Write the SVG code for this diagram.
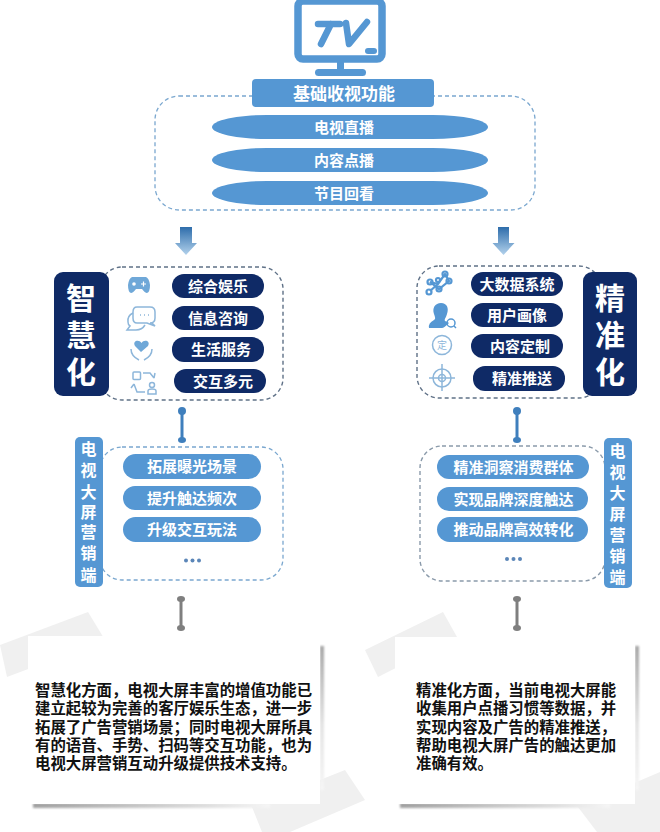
<svg xmlns="http://www.w3.org/2000/svg" width="660" height="832" viewBox="0 0 660 832">
<style>
text{font-family:"Liberation Sans","Noto Sans CJK SC",sans-serif;font-weight:700;text-anchor:middle}
.w{fill:#fff}
.b{fill:#5597d3}
.n{fill:#0f2a66}
.d{fill:none;stroke:#7aa7cf;stroke-width:1.3;stroke-dasharray:4 3}
.g{fill:none;stroke:#5f7187;stroke-width:1.4;stroke-dasharray:4 3}
.t{font-size:15px}
.v{font-size:16px}
.h{font-size:30px}
.ic{fill:none;stroke:#8db6da;stroke-width:1.5}
.note{font-size:15.4px;fill:#111;text-anchor:start}
.tape{fill:#f0f0f0}
</style>
<defs>
<linearGradient id="ar" x1="0" y1="0" x2="0" y2="1"><stop offset="0" stop-color="#2e6dab"/><stop offset="1" stop-color="#b3d2ec"/></linearGradient>
<linearGradient id="sr" x1="0" y1="0" x2="0" y2="1"><stop offset="0" stop-color="#a5a5a5"/><stop offset="0.55" stop-color="#e4e4e4"/><stop offset="1" stop-color="#f6f6f6"/></linearGradient>
<linearGradient id="sb" x1="0" y1="0" x2="1" y2="0"><stop offset="0" stop-color="#a0a0a0"/><stop offset="0.75" stop-color="#e0e0e0"/><stop offset="1" stop-color="#f6f6f6"/></linearGradient>
<filter id="bl" x="-50%" y="-50%" width="200%" height="200%"><feGaussianBlur stdDeviation="1.200"/></filter>
</defs>
<g id="tv">
<rect x="298" y="1" width="84" height="58" rx="5" fill="#fff" stroke="#5597d3" stroke-width="7.500"/>
<rect x="337" y="62" width="7" height="8" class="b"/>
<rect x="315" y="69" width="51" height="7" rx="3.500" class="b"/>
<path d="M318 24H340M331 24L321 44M346 23L349 44L367 22" fill="none" stroke="#5597d3" stroke-width="6.500" stroke-linecap="round" stroke-linejoin="round"/>
<rect x="365" y="48" width="12" height="6" rx="3" class="b"/>
</g>
<g id="base">
<rect x="155" y="96" width="380" height="114" rx="24" class="d"/>
<rect x="252" y="79" width="182" height="28" rx="4" class="b"/>
<text x="344" y="100" class="w" font-size="17">基础收视功能</text>
<rect x="212" y="115" width="276" height="24" rx="55" ry="12" class="b"/><text x="344" y="132.500" class="w t">电视直播</text>
<rect x="212" y="148" width="276" height="24" rx="55" ry="12" class="b"/><text x="344" y="165.500" class="w t">内容点播</text>
<rect x="212" y="181" width="276" height="24" rx="55" ry="12" class="b"/><text x="344" y="198.500" class="w t">节目回看</text>
</g>
<g id="connectors">
<path d="M180 227H192V243H197L186 255L175 243H180Z" fill="url(#ar)"/>
<path d="M498 227H509V243H514.500L503.500 255L492.500 243H498Z" fill="url(#ar)"/>
<path d="M182 411V440" stroke="#3f7fbd" stroke-width="3"/><circle cx="182" cy="411" r="4" fill="#3f7fbd"/><ellipse cx="182" cy="440" rx="4" ry="3" fill="#3f7fbd"/>
<path d="M517 411V440" stroke="#3f7fbd" stroke-width="3"/><circle cx="517" cy="411" r="4" fill="#3f7fbd"/><ellipse cx="517" cy="440" rx="4" ry="3" fill="#3f7fbd"/>
<path d="M181 599V627" stroke="#7f7f7f" stroke-width="3"/><ellipse cx="181" cy="599" rx="4" ry="3" fill="#7f7f7f"/><ellipse cx="181" cy="628" rx="4" ry="3" fill="#7f7f7f"/>
<path d="M517 599V627" stroke="#7f7f7f" stroke-width="3"/><ellipse cx="517" cy="599" rx="4" ry="3" fill="#7f7f7f"/><ellipse cx="517" cy="628" rx="4" ry="3" fill="#7f7f7f"/>
</g>
<g id="smart">
<rect x="100" y="267" width="183" height="133" rx="22" class="g"/>
<rect x="54" y="272" width="55" height="124" rx="9" class="n"/>
<text x="81" y="309" class="w h">智</text>
<text x="81" y="346" class="w h">慧</text>
<text x="81" y="383" class="w h">化</text>
<rect x="172" y="274" width="92" height="24" rx="12" class="n"/><text x="218" y="291.500" class="w t">综合娱乐</text>
<rect x="172" y="306" width="92" height="24" rx="12" class="n"/><text x="218" y="323.500" class="w t">信息咨询</text>
<rect x="172" y="337" width="92" height="25" rx="12" class="n"/><text x="221" y="355" class="w t">生活服务</text>
<rect x="174" y="369" width="92" height="24" rx="12" class="n"/><text x="223" y="386.500" class="w t">交互多元</text>
<path d="M132 277H146Q149 278 150 285Q150 292 147 293Q145 293 142 289H136Q133 293 131 293Q128 292 128 285Q129 278 132 277Z" fill="#6fa8d8"/>
<circle cx="134" cy="284" r="1.800" fill="#fff"/><path d="M141 284H146M143.500 281.500V286.500" stroke="#fff" stroke-width="1.200"/>
<path d="M137 307H150Q155 307 155 312V318Q155 323 150 323H152L155 326L147 323H137Q133 323 133 318V312Q133 307 137 307Z" class="ic"/>
<path d="M133 313Q127 316 128 322Q128 325 130 326L127 330H136Q142 330 145 325" class="ic"/>
<path d="M140 315H141M144 315H145M148 315H149" stroke="#8db6da" stroke-width="1.500"/>
<path d="M141 352L135 346C132 341 139 339 141.500 343C144 339 151 341 148 346Z" fill="#6fa8d8"/>
<path d="M131 349Q131 356 139 360M152 349Q152 356 144 360" class="ic"/>
<rect x="133" y="372" width="7.500" height="7.500" rx="1" class="ic"/>
<path d="M143 373H150L154 378M154 378L155 373M134 384L137 392H145M134 384L131 388" class="ic"/>
<circle cx="152" cy="385" r="2.500" class="ic"/><path d="M148 394V391Q148 389 152 389Q156 389 156 391V394Z" class="ic"/>
</g>
<g id="precise">
<rect x="417" y="266" width="184" height="132" rx="22" class="g"/>
<rect x="583" y="272" width="54" height="124" rx="9" class="n"/>
<text x="610" y="309" class="w h">精</text>
<text x="610" y="346" class="w h">准</text>
<text x="610" y="383" class="w h">化</text>
<rect x="471" y="272" width="92" height="24" rx="12" class="n"/><text x="517" y="289.500" class="w t">大数据系统</text>
<rect x="471" y="303" width="92" height="24" rx="12" class="n"/><text x="517" y="320.500" class="w t">用户画像</text>
<rect x="471" y="334" width="92" height="24" rx="12" class="n"/><text x="520" y="351.500" class="w t">内容定制</text>
<rect x="473" y="366" width="92" height="25" rx="12" class="n"/><text x="522" y="384" class="w t">精准推送</text>
<g fill="none" stroke="#5597d3" stroke-width="2.200">
<path d="M430 291L438 284L445 274L449 281L439 289L430 282L438 284"/>
<circle cx="429" cy="292" r="2.500"/><circle cx="445" cy="274" r="2.500"/><circle cx="449" cy="281" r="2.500"/><circle cx="430" cy="282" r="2.500"/><circle cx="439" cy="289" r="2.500"/><circle cx="438" cy="280" r="2"/>
</g>
<path d="M441 303C447 303 449 308 447 314C446 318 444 319 445 321Q448 322 449 323Q444 328 442 328H429Q428 323 434 320C436 319 435 317 434 314C432 308 435 303 441 303Z" fill="#5597d3"/>
<circle cx="451" cy="323" r="4" fill="none" stroke="#5597d3" stroke-width="1.500"/><path d="M454 326L456 328" stroke="#5597d3" stroke-width="1.500"/>
<circle cx="442" cy="345" r="9.500" class="ic"/><text x="442" y="349" font-size="10" style="font-weight:400" fill="#8db6da">定</text>
<circle cx="442" cy="378" r="9" class="ic"/><circle cx="442" cy="378" r="3.500" class="ic"/><path d="M442 364V391M429 378H455" class="ic"/>
</g>
<g id="tv-left">
<rect x="100" y="447" width="183" height="133" rx="22" class="d"/>
<rect x="75" y="437" width="28" height="150" rx="5" class="b"/>
<text x="88.500" y="455" class="w v">电</text><text x="88.500" y="476" class="w v">视</text><text x="88.500" y="498" class="w v">大</text><text x="88.500" y="518" class="w v">屏</text><text x="88.500" y="538" class="w v">营</text><text x="88.500" y="559" class="w v">销</text><text x="88.500" y="581" class="w v">端</text>
<rect x="123" y="454" width="138" height="25" rx="12.500" class="b"/><text x="192" y="472" class="w t">拓展曝光场景</text>
<rect x="123" y="486" width="138" height="24" rx="12" class="b"/><text x="192" y="503.500" class="w t">提升触达频次</text>
<rect x="123" y="517" width="138" height="25" rx="12.500" class="b"/><text x="192" y="535" class="w t">升级交互玩法</text>
<g fill="#5b86b8"><circle cx="186" cy="560.500" r="2"/><circle cx="192.500" cy="560.500" r="2"/><circle cx="199" cy="560.500" r="2"/></g>
</g>
<g id="tv-right">
<rect x="420" y="446" width="185" height="135" rx="22" class="g" style="stroke:#8a9aaa"/>
<rect x="604" y="438" width="28" height="150" rx="5" class="b"/>
<text x="617.500" y="457" class="w v">电</text><text x="617.500" y="478" class="w v">视</text><text x="617.500" y="499" class="w v">大</text><text x="617.500" y="520" class="w v">屏</text><text x="617.500" y="541" class="w v">营</text><text x="617.500" y="562" class="w v">销</text><text x="617.500" y="583" class="w v">端</text>
<rect x="437" y="455" width="152" height="24" rx="12" class="b"/><text x="513.500" y="472.500" class="w t">精准洞察消费群体</text>
<rect x="437" y="487" width="151" height="24" rx="12" class="b"/><text x="513.500" y="504.500" class="w t">实现品牌深度触达</text>
<rect x="437" y="517" width="151" height="25" rx="12.500" class="b"/><text x="513.500" y="535" class="w t">推动品牌高效转化</text>
<g fill="#5b86b8"><circle cx="507" cy="559" r="2"/><circle cx="513.500" cy="559" r="2"/><circle cx="520" cy="559" r="2"/></g>
</g>
<g id="note-left">
<path d="M0 645L88 612L105 640L7 677Z" class="tape"/>
<path d="M252 807L345 770L365 800L290 832H262Z" class="tape"/>
<rect x="320" y="646" width="4" height="144" fill="url(#sr)" filter="url(#bl)"/>
<rect x="33" y="803" width="237" height="5" fill="url(#sb)" filter="url(#bl)"/>
<rect x="28" y="636" width="292" height="168" fill="#fff"/>
<text x="35" y="696" class="note">智慧化方面，电视大屏丰富的增值功能已</text>
<text x="35" y="714" class="note">建立起较为完善的客厅娱乐生态，进一步</text>
<text x="35" y="733" class="note">拓展了广告营销场景；同时电视大屏所具</text>
<text x="35" y="751" class="note">有的语音、手势、扫码等交互功能，也为</text>
<text x="35" y="769" class="note">电视大屏营销互动升级提供技术支持。</text>
</g>
<g id="note-right">
<path d="M365 650L443 612L457 637L378 677Z" class="tape"/>
<path d="M578 807L660 772V832H597Z" class="tape"/>
<rect x="635" y="646" width="4" height="144" fill="url(#sr)" filter="url(#bl)"/>
<rect x="400" y="803" width="210" height="5" fill="url(#sb)" filter="url(#bl)"/>
<rect x="395" y="637" width="240" height="167" fill="#fff"/>
<text x="416" y="696" class="note">精准化方面，当前电视大屏能</text>
<text x="416" y="714" class="note">收集用户点播习惯等数据，并</text>
<text x="416" y="733" class="note">实现内容及广告的精准推送，</text>
<text x="416" y="751" class="note">帮助电视大屏广告的触达更加</text>
<text x="416" y="769" class="note">准确有效。</text>
</g>
</svg>
